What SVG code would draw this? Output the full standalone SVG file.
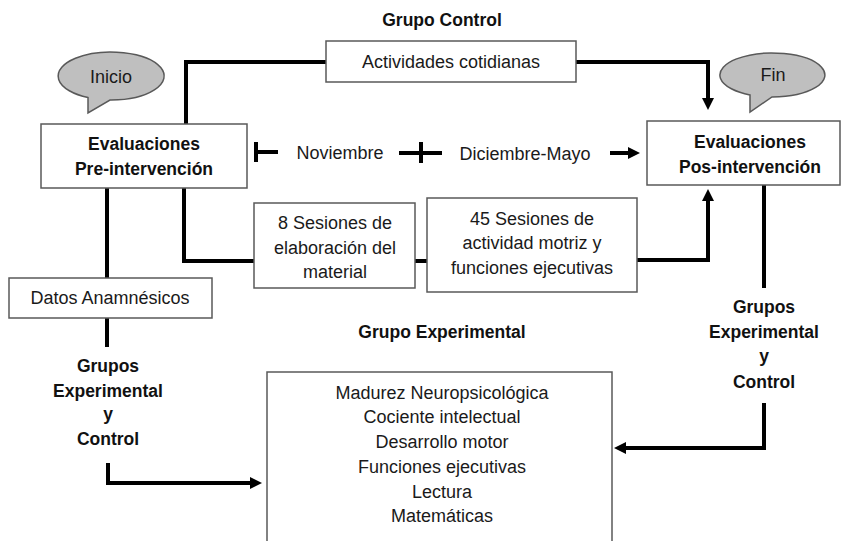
<svg xmlns="http://www.w3.org/2000/svg" width="841" height="541" viewBox="0 0 841 541">
<style>
.box{fill:#fff;stroke:#595959;stroke-width:1.5}
.bubble{fill:#bfbfbf;stroke:#595959;stroke-width:1.5}
.t{font-family:"Liberation Sans",Arial,sans-serif;font-size:18px;fill:#1a1a1a;text-anchor:middle}
.b{font-family:"Liberation Sans",Arial,sans-serif;font-size:17.5px;font-weight:bold;fill:#111;text-anchor:middle}
.c{fill:none;stroke:#000;stroke-width:4}
</style>
<defs>
<marker id="ah" viewBox="0 0 12 12" markerWidth="12" markerHeight="12" refX="6" refY="6" orient="auto" markerUnits="userSpaceOnUse">
<path d="M0,0 L12,6 L0,12 Z" fill="#000"/>
</marker>
</defs>
<rect width="841" height="541" fill="#fff"/>

<g id="connectors">
<path class="c" d="M186,124 V62 H326"/>
<path class="c" d="M576,62 H708 V104" marker-end="url(#ah)"/>
<path class="c" d="M184,188 V261 H254"/>
<path class="c" d="M415,261 H427"/>
<path class="c" d="M637,260 H708 V195" marker-end="url(#ah)"/>
<path class="c" d="M107,188 V278"/>
<path class="c" d="M107,318 V347"/>
<path class="c" d="M108,463 V483 H256" marker-end="url(#ah)"/>
<path class="c" d="M764,185 V288"/>
<path class="c" d="M764,403 V448 H620" marker-end="url(#ah)"/>
<!-- timeline -->
<path class="c" d="M256,142 V162 M254,152 H278"/>
<path class="c" d="M399,153 H442 M421,142 V163"/>
<path class="c" stroke-width="3.5" d="M610,153 H634" marker-end="url(#ah)"/>
</g>

<g id="inicio">
<path class="bubble" d="M110,100 A53 24 0 1 0 88,97.6 L88,113 Z"/>
<text class="t" x="111" y="83">Inicio</text>
</g>
<g id="fin">
<path class="bubble" d="M772,97 A52.5 22 0 1 0 750,94.9 L750,112 Z"/>
<text class="t" x="773" y="81">Fin</text>
</g>

<g id="grupo-control-label"><text class="b" x="442" y="26" font-size="17">Grupo Control</text></g>

<g id="actividades">
<rect class="box" x="326" y="41" width="250" height="41"/>
<text class="t" x="451" y="68">Actividades cotidianas</text>
</g>

<g id="pre">
<rect class="box" x="41" y="124" width="206" height="64"/>
<text class="b" x="144" y="150">Evaluaciones</text>
<text class="b" x="144" y="175">Pre-intervención</text>
</g>

<g id="pos">
<rect class="box" x="647" y="121" width="193" height="64"/>
<text class="b" x="750" y="148">Evaluaciones</text>
<text class="b" x="750" y="173">Pos-intervención</text>
</g>

<g id="timeline-labels">
<text class="t" x="340" y="159">Noviembre</text>
<text class="t" x="525" y="160">Diciembre-Mayo</text>
</g>

<g id="sesiones8">
<rect class="box" x="254" y="203" width="161" height="85"/>
<text class="t" x="335" y="229">8 Sesiones de</text>
<text class="t" x="335" y="254">elaboración del</text>
<text class="t" x="335" y="278">material</text>
</g>

<g id="sesiones45">
<rect class="box" x="427" y="198" width="210" height="94"/>
<text class="t" x="532" y="225">45 Sesiones de</text>
<text class="t" x="532" y="249">actividad motriz y</text>
<text class="t" x="532" y="274">funciones ejecutivas</text>
</g>

<g id="datos">
<rect class="box" x="9" y="278" width="203" height="40"/>
<text class="t" x="110" y="304">Datos Anamnésicos</text>
</g>

<g id="grupo-experimental-label"><text class="b" x="442" y="338" font-size="18.5">Grupo Experimental</text></g>

<g id="grupos-left">
<text class="b" x="108" y="372">Grupos</text>
<text class="b" x="108" y="397">Experimental</text>
<text class="b" x="108" y="420">y</text>
<text class="b" x="108" y="445">Control</text>
</g>

<g id="grupos-right">
<text class="b" x="764" y="313">Grupos</text>
<text class="b" x="764" y="338">Experimental</text>
<text class="b" x="764" y="362">y</text>
<text class="b" x="764" y="388">Control</text>
</g>

<g id="resultados">
<rect class="box" x="267" y="372" width="345" height="185"/>
<text class="t" x="442" y="399">Madurez Neuropsicológica</text>
<text class="t" x="442" y="423">Cociente intelectual</text>
<text class="t" x="442" y="448">Desarrollo motor</text>
<text class="t" x="442" y="473">Funciones ejecutivas</text>
<text class="t" x="442" y="498">Lectura</text>
<text class="t" x="442" y="522">Matemáticas</text>
</g>
</svg>
